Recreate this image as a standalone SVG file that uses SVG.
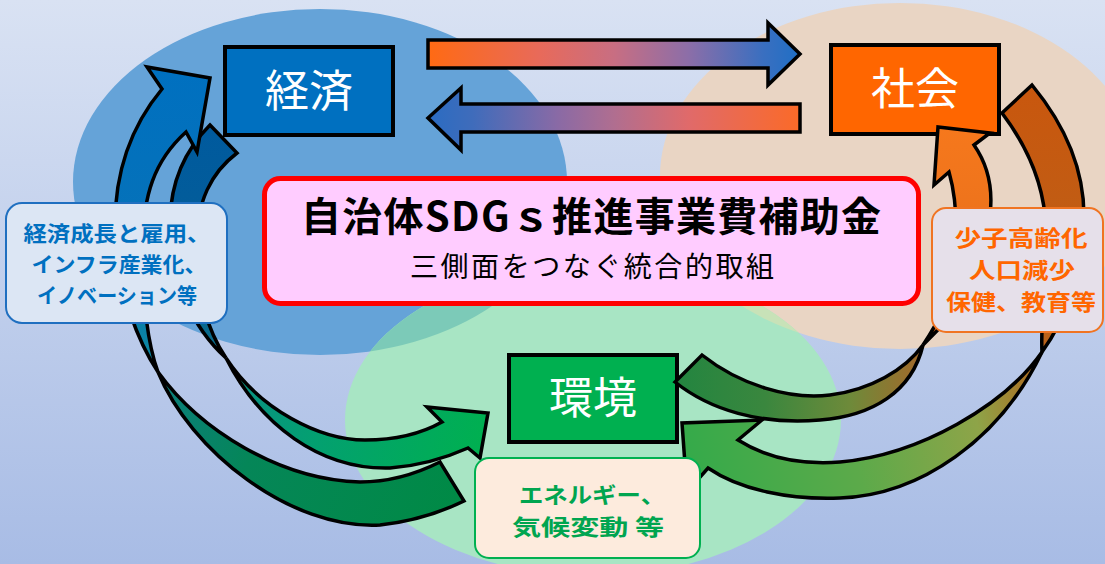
<svg xmlns="http://www.w3.org/2000/svg" width="1105" height="564" viewBox="0 0 1105 564">
<defs>
<style>
.jp{font-family:"Noto Sans CJK JP","Noto Sans",sans-serif}
.box{stroke:#000;stroke-width:4}
.boxtxt{fill:#fff;font-size:44px;font-weight:400;text-anchor:middle}
.arc{stroke:#000;stroke-width:3.5;stroke-linejoin:miter}
.lbl{font-weight:700;text-anchor:middle}
</style>
<linearGradient id="bg" x1="0" y1="0" x2="0" y2="1">
<stop offset="0" stop-color="#d9e2f3"/>
<stop offset="1" stop-color="#a8bce5"/>
</linearGradient>
<clipPath id="clipGreen"><ellipse cx="593" cy="420" rx="248" ry="156"/></clipPath>
<linearGradient id="gTop" x1="428" y1="0" x2="800" y2="0" gradientUnits="userSpaceOnUse">
<stop offset="0" stop-color="#ff6a13"/>
<stop offset="0.3" stop-color="#e86a5a"/>
<stop offset="0.5" stop-color="#c86e82"/>
<stop offset="0.7" stop-color="#8c6ea8"/>
<stop offset="0.9" stop-color="#3a6fc0"/>
<stop offset="1" stop-color="#1f6fc5"/>
</linearGradient>
<linearGradient id="gBot" x1="428" y1="0" x2="800" y2="0" gradientUnits="userSpaceOnUse">
<stop offset="0" stop-color="#2a6cc2"/>
<stop offset="0.12" stop-color="#3f6cbb"/>
<stop offset="0.35" stop-color="#8a6aa5"/>
<stop offset="0.5" stop-color="#b06e90"/>
<stop offset="0.7" stop-color="#e06a6a"/>
<stop offset="1" stop-color="#fb6a28"/>
</linearGradient>
<linearGradient id="gL1f" x1="0" y1="67" x2="0" y2="372" gradientUnits="userSpaceOnUse">
<stop offset="0" stop-color="#0070c0"/>
<stop offset="0.6" stop-color="#0672b8"/>
<stop offset="1" stop-color="#0d8a9c"/>
</linearGradient>
<linearGradient id="gL1b" x1="160" y1="372" x2="464" y2="500" gradientUnits="userSpaceOnUse">
<stop offset="0" stop-color="#0b7e7e"/>
<stop offset="0.35" stop-color="#058658"/>
<stop offset="1" stop-color="#008a45"/>
</linearGradient>
<linearGradient id="gL2b" x1="0" y1="125" x2="0" y2="358" gradientUnits="userSpaceOnUse">
<stop offset="0" stop-color="#005a9e"/>
<stop offset="0.6" stop-color="#045e98"/>
<stop offset="1" stop-color="#0b6e88"/>
</linearGradient>
<linearGradient id="gL2f" x1="226" y1="358" x2="488" y2="430" gradientUnits="userSpaceOnUse">
<stop offset="0" stop-color="#0a8e86"/>
<stop offset="0.4" stop-color="#03a070"/>
<stop offset="1" stop-color="#00b050"/>
</linearGradient>
<linearGradient id="gR1f" x1="0" y1="127" x2="0" y2="345" gradientUnits="userSpaceOnUse">
<stop offset="0" stop-color="#f6781c"/>
<stop offset="1" stop-color="#e06c1c"/>
</linearGradient>
<linearGradient id="gR1b" x1="923" y1="0" x2="680" y2="0" gradientUnits="userSpaceOnUse">
<stop offset="0" stop-color="#a4682a"/>
<stop offset="0.3" stop-color="#6e8a3a"/>
<stop offset="0.65" stop-color="#3a873e"/>
<stop offset="1" stop-color="#248540"/>
</linearGradient>
<linearGradient id="gR2b" x1="0" y1="85" x2="0" y2="352" gradientUnits="userSpaceOnUse">
<stop offset="0" stop-color="#c9570e"/>
<stop offset="1" stop-color="#b8621a"/>
</linearGradient>
<linearGradient id="gR2f" x1="1042" y1="380" x2="690" y2="450" gradientUnits="userSpaceOnUse">
<stop offset="0" stop-color="#b0681e"/>
<stop offset="0.2" stop-color="#8ea448"/>
<stop offset="0.55" stop-color="#5caa4a"/>
<stop offset="1" stop-color="#36aa4a"/>
</linearGradient>
</defs>

<rect id="background" x="0" y="0" width="1105" height="564" fill="url(#bg)"/>

<g id="spheres">
<ellipse cx="320" cy="182" rx="247" ry="173" fill="#65a3d8"/>
<ellipse cx="900" cy="176" rx="240" ry="173" fill="#e9d5c4"/>
<ellipse cx="593" cy="420" rx="248" ry="156" fill="#a8e5c4"/>
<g clip-path="url(#clipGreen)">
<ellipse cx="320" cy="182" rx="247" ry="173" fill="#7ccab8"/>
<ellipse cx="900" cy="176" rx="240" ry="173" fill="#c8e2b8"/>
</g>
</g>

<g id="node-keizai">
<rect class="box" x="225" y="47" width="168" height="88" fill="#0070c0"/>
<text class="jp boxtxt" x="309" y="107">経済</text>
</g>
<g id="node-shakai">
<rect class="box" x="831" y="45" width="168" height="89" fill="#ff6600"/>
<text class="jp boxtxt" x="915" y="105">社会</text>
</g>
<g id="node-kankyo">
<rect class="box" x="509" y="355" width="168" height="87" fill="#00b050"/>
<text class="jp boxtxt" x="593" y="414">環境</text>
</g>

<g id="connectors">
<path class="arc" d="M428,40 L768,40 L768,23 L800,54 L768,85 L768,68 L428,68 Z" fill="url(#gTop)"/>
<path class="arc" d="M800,104 L461,104 L461,88 L428,118 L461,150 L461,132 L800,132 Z" fill="url(#gBot)"/>

<path class="arc" d="M210,125 L237,153 C212,172 196,200 196,250 C196,290 207,330 226,358 C195,330 168,280 170,220 C171,180 185,150 210,125 Z" fill="url(#gL2b)"/>
<path class="arc" d="M158,372 C190,450 290,530 380,525 Q425,520 464,501 L440,462 Q400,482 360,482 C280,480 200,430 158,372 Z" fill="url(#gL1b)"/>
<path class="arc" d="M162,89 L147,67 L210,78 L197,152 L186,132 C155,160 142,195 143,250 C142,300 148,345 158,372 C140,345 116,290 115,230 C114,170 132,125 162,89 Z" fill="url(#gL1f)"/>
<path class="arc" d="M226,358 C260,410 320,440 365,440 Q410,440 442,422 L427,407 L488,413 L480,458 L468,448 Q430,465 390,468 C320,470 260,425 226,358 Z" fill="url(#gL2f)"/>

<path class="arc" d="M1002,113 L1032,85 C1065,125 1085,170 1084,220 C1083,275 1065,320 1042,352 C1040,320 1048,270 1046,230 C1045,190 1030,150 1002,113 Z" fill="url(#gR2b)"/>
<path class="arc" d="M923,345 C912,392 872,416 820,420 C760,425 710,410 675,382 L702,355 C740,385 790,400 830,395 C870,390 905,370 923,345 Z" fill="url(#gR1b)"/>
<path class="arc" d="M949,172 L934,185 L938,127 L990,133 L974,145 C988,165 993,190 990,215 C987,265 960,310 923,345 C940,320 952,295 955,260 C957,235 957,200 949,172 Z" fill="url(#gR1f)"/>
<path class="arc" d="M1042,352 C1005,405 920,455 840,462 C800,465 765,457 738,440 L762,420 L682,423 L687,492 L708,468 C740,490 790,500 840,498 C920,495 1000,440 1042,352 Z" fill="url(#gR2f)"/>
</g>

<g id="label-keizai">
<rect x="6" y="203" width="221" height="120" rx="16" fill="#dce6f4" stroke="#1f6fc0" stroke-width="2"/>
<text class="jp lbl" x="117" y="241" font-size="21" fill="#0070c0" textLength="187" lengthAdjust="spacingAndGlyphs">経済成長と雇用、</text>
<text class="jp lbl" x="119" y="272" font-size="21" fill="#0070c0" textLength="175" lengthAdjust="spacingAndGlyphs">インフラ産業化、</text>
<text class="jp lbl" x="117" y="303" font-size="21" fill="#0070c0" textLength="160" lengthAdjust="spacingAndGlyphs">イノベーション等</text>
</g>

<g id="label-shakai">
<rect x="932" y="208" width="171" height="124" rx="14" fill="#e6e0ea" stroke="#f07422" stroke-width="2"/>
<text class="jp lbl" x="1021" y="246" font-size="22" fill="#ff6600" textLength="133" lengthAdjust="spacingAndGlyphs">少子高齢化</text>
<text class="jp lbl" x="1022" y="278" font-size="22" fill="#ff6600" textLength="106" lengthAdjust="spacingAndGlyphs">人口減少</text>
<text class="jp lbl" x="1021" y="310" font-size="22" fill="#ff6600" textLength="150" lengthAdjust="spacingAndGlyphs">保健、教育等</text>
</g>

<g id="label-kankyo">
<rect x="475" y="458" width="225" height="100" rx="14" fill="#fdebdd" stroke="#00b050" stroke-width="2"/>
<text class="jp lbl" x="592" y="503" font-size="22" fill="#00a550" textLength="146" lengthAdjust="spacingAndGlyphs">エネルギー、</text>
<text class="jp lbl" x="588" y="535" font-size="22" fill="#00a550" textLength="152" lengthAdjust="spacingAndGlyphs">気候変動 等</text>
</g>

<g id="node-title">
<rect x="264.5" y="178.5" width="654" height="125" rx="16" fill="#ffccff" stroke="#ff0000" stroke-width="5"/>
<text class="jp" x="591" y="231" font-size="40" font-weight="700" fill="#000" text-anchor="middle" textLength="580" lengthAdjust="spacing">自治体SDGｓ推進事業費補助金</text>
<text class="jp" x="592" y="277" font-size="28" font-weight="400" fill="#000" text-anchor="middle" textLength="364" lengthAdjust="spacing">三側面をつなぐ統合的取組</text>
</g>
</svg>
